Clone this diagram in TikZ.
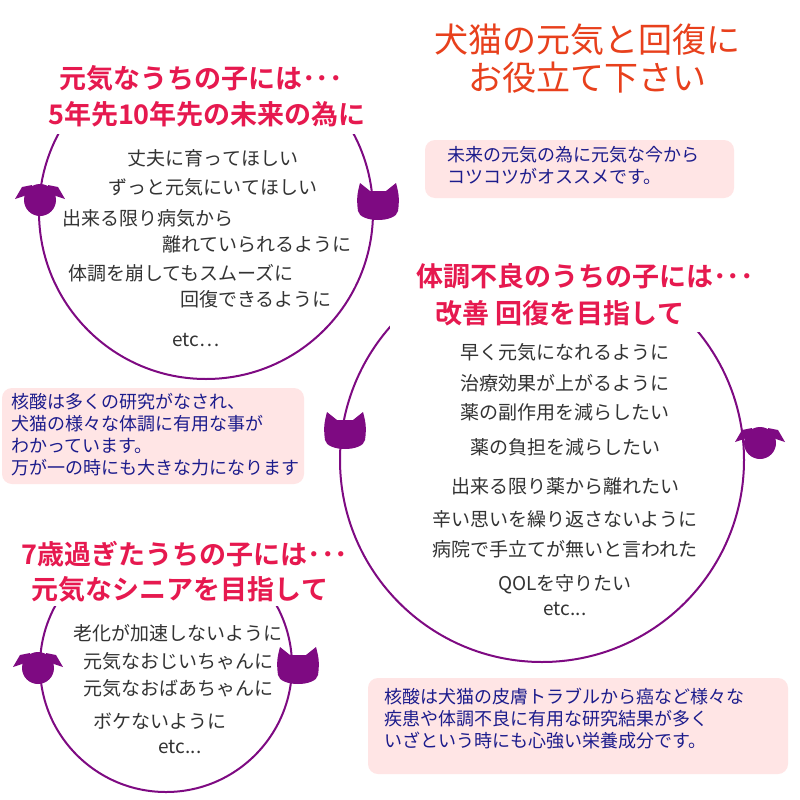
\documentclass[tikz,border=0pt]{standalone}
\usepackage{fontspec}
\newfontfamily\jp{Noto Sans CJK JP}
\newfontfamily\jpb{Noto Sans CJK JP Bold}
\begin{document}
\begin{tikzpicture}[x=1pt,y=-1pt,
  ring/.style={draw=rpurple,line width=2pt},
  body/.style={font=\jp\fontsize{19}{19}\selectfont,text=black!80,inner sep=0pt},
  ttl/.style={font=\jpb\fontsize{27}{27}\selectfont,text=tred,inner sep=0pt},
  note/.style={font=\jp\fontsize{18}{22}\selectfont,text=navy,align=left,inner sep=0pt,anchor=north west},
  glow/.style={fill=pink!40,draw=none,rounded corners=10pt},
  cat/.pic={\fill[rpurple] (-20,8) .. controls (-22,-6) and (-20,-12) .. (-18,-20) -- (-8,-12) -- (8,-12) -- (18,-20) .. controls (20,-12) and (22,-6) .. (20,8) .. controls (18,20) and (-18,20) .. (-20,8) -- cycle;},
  dog/.pic={\fill[rpurple] (0,3) circle[radius=16];
    \fill[rpurple] (-8,-12) -- (-18,-10) -- (-25,2) -- (-16,-1) -- (-8,-4) -- cycle;
    \fill[rpurple] (8,-12) -- (18,-10) -- (25,2) -- (16,-1) -- (8,-4) -- cycle;}]
\definecolor{rpurple}{HTML}{7E0A82}
\definecolor{tred}{HTML}{E6194F}
\definecolor{navy}{HTML}{1C1C8C}
\definecolor{otitle}{HTML}{E8401C}
\useasboundingbox (0,0) rectangle (800,800);
\fill[white] (0,0) rectangle (800,800);
% circles
\draw[ring] (206,212) circle[radius=167];
\draw[ring] (542,460) circle[radius=202];
\draw[ring] (166,666) circle[radius=126];
% glow boxes
\fill[glow] (425,140) rectangle (734,198);
\fill[glow] (2,388) rectangle (304,484);
\fill[glow] (368,678) rectangle (788,774);
% title covers
\fill[white] (40,30) rectangle (380,134);
\fill[white] (390,250) rectangle (780,332);
\fill[white] (25,530) rectangle (340,606);
% heads
\pic at (40,197) {dog};
\pic at (378,203) {cat};
\pic at (345,432) {cat};
\pic at (760,440) {dog};
\pic at (38,665) {dog};
\pic at (298,667) {cat};
% top title
\node[font=\jp\fontsize{34}{34}\selectfont,text=otitle,inner sep=0pt] (t0) at (587,40) {犬猫の元気と回復に};
\node[font=\jp\fontsize{34}{34}\selectfont,text=otitle,inner sep=0pt] (t0b) at (587,78) {お役立て下さい};
% titles
\node[ttl] (ha) at (201,78) {元気なうちの子には･･･};
\node[ttl] (hb) at (207,114) {5年先10年先の未来の為に};
\node[ttl] (hc) at (585,276) {体調不良のうちの子には･･･};
\node[ttl] (hd) at (560,313) {改善 回復を目指して};
\node[ttl] (he) at (185,554) {7歳過ぎたうちの子には･･･};
\node[ttl] (hf) at (180,589) {元気なシニアを目指して};
% circle 1 text
\node[body] (l1) at (213,158) {丈夫に育ってほしい};
\node[body] (l2) at (213,187) {ずっと元気にいてほしい};
\node[body,anchor=west] (l3) at (62,218) {出来る限り病気から};
\node[body,anchor=east] (l4) at (352,244) {離れていられるように};
\node[body,anchor=west] (l5) at (68,273) {体調を崩してもスムーズに};
\node[body,anchor=west] (l6) at (180,299) {回復できるように};
\node[body] (l7) at (196,340) {etc…};
% circle 2 text
\foreach \n/\y/\t in {1/352/{早く元気になれるように},2/383/{治療効果が上がるように},3/412/{薬の副作用を減らしたい},4/447/{薬の負担を減らしたい},5/486/{出来る限り薬から離れたい},6/519/{辛い思いを繰り返さないように},7/549/{病院で手立てが無いと言われた},8/584/{QOLを守りたい}}
  {\node[body] (m\n) at (565,\y) {\t};}
\node[body] (m9) at (565,609) {etc...};
% circle 3 text
\node[body] (n1) at (178,633) {老化が加速しないように};
\node[body] (n2) at (178,661) {元気なおじいちゃんに};
\node[body] (n3) at (178,688) {元気なおばあちゃんに};
\node[body] (n4) at (160,721) {ボケないように};
\node[body] (n5) at (180,747) {etc...};
% notes
\node[note] (b1) at (447,146) {未来の元気の為に元気な今から\\コツコツがオススメです。};
\node[note] (b2) at (11,393) {核酸は多くの研究がなされ、\\犬猫の様々な体調に有用な事が\\わかっています。\\万が一の時にも大きな力になります};
\node[note] (b3) at (384,688) {核酸は犬猫の皮膚トラブルから癌など様々な\\疾患や体調不良に有用な研究結果が多く\\いざという時にも心強い栄養成分です。};
\end{tikzpicture}
\end{document}
